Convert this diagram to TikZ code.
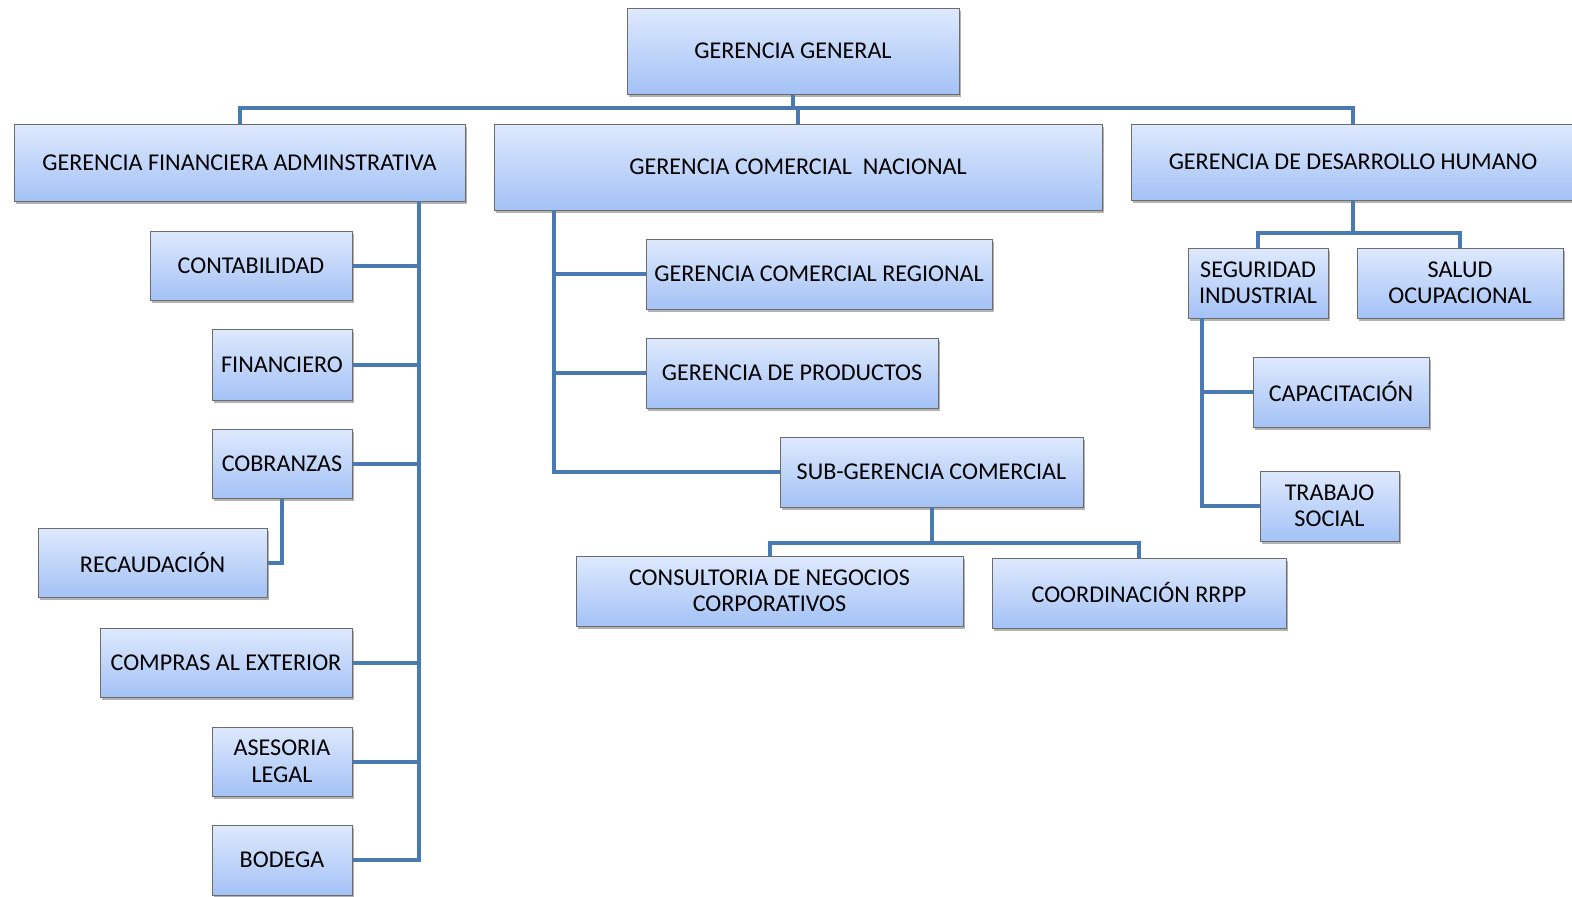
\documentclass[tikz,border=0pt]{standalone}
\usepackage{fontspec}
\setmainfont{Carlito}
\usetikzlibrary{shadows}
\definecolor{linea}{RGB}{74,122,178}
\definecolor{topazul}{RGB}{222,233,253}
\definecolor{botazul}{RGB}{164,194,246}
\tikzset{
  caja/.style={rectangle, draw=gray!85!black, line width=1pt, top color=topazul, bottom color=botazul,
    inner sep=0pt, align=center, font=\fontsize{24.1}{26.5}\selectfont,
    drop shadow={shadow xshift=2pt, shadow yshift=-3pt, fill=black, opacity=0.3}},
  conn/.style={draw=linea, line width=4pt}
}
\begin{document}
\begin{tikzpicture}[x=1pt, y=-1pt]
      \useasboundingbox (0,0) rectangle (1572,897);
      \node (1) at (793,51) [caja, minimum width=332, minimum height=86] {GERENCIA GENERAL};
      \node (2) at (239.5,162.5) [caja, minimum width=451, minimum height=77] {GERENCIA FINANCIERA ADMINSTRATIVA};
      \node (3) at (798,167) [caja, minimum width=608, minimum height=86] {GERENCIA COMERCIAL\ \ NACIONAL};
      \node (4) at (1353,162) [caja, minimum width=444, minimum height=76] {GERENCIA DE DESARROLLO HUMANO};
      \node (5) at (251,265.5) [caja, minimum width=202, minimum height=69] {CONTABILIDAD};
      \node (6) at (282,364.5) [caja, minimum width=140, minimum height=71] {FINANCIERO};
      \node (7) at (282,463.5) [caja, minimum width=140, minimum height=69] {COBRANZAS};
      \node (8) at (152.5,562.5) [caja, minimum width=229, minimum height=69] {RECAUDACIÓN};
      \node (9) at (226,662.5) [caja, minimum width=252, minimum height=69] {COMPRAS AL EXTERIOR};
      \node (10) at (282,761.5) [caja, minimum width=140, minimum height=69] {ASESORIA\\LEGAL};
      \node (11) at (282,860) [caja, minimum width=140, minimum height=70] {BODEGA};
      \node (12) at (819,274) [caja, minimum width=346, minimum height=70] {GERENCIA COMERCIAL REGIONAL};
      \node (13) at (792,373) [caja, minimum width=292, minimum height=70] {GERENCIA DE PRODUCTOS};
      \node (14) at (931.5,472) [caja, minimum width=303, minimum height=70] {SUB-GERENCIA COMERCIAL};
      \node (15) at (769.5,591) [caja, minimum width=387, minimum height=70] {CONSULTORIA DE NEGOCIOS\\CORPORATIVOS};
      \node (16) at (1139,593) [caja, minimum width=294, minimum height=70] {COORDINACIÓN RRPP};
      \node (17) at (1258,283) [caja, minimum width=140, minimum height=70] {SEGURIDAD\\INDUSTRIAL};
      \node (18) at (1460,283) [caja, minimum width=206, minimum height=70] {SALUD\\OCUPACIONAL};
      \node (19) at (1341,392) [caja, minimum width=176, minimum height=70] {CAPACITACIÓN};
      \node (20) at (1329.5,506) [caja, minimum width=139, minimum height=70] {TRABAJO\\SOCIAL};
      \coordinate (t) at (793,108);
      \coordinate (sp) at (419,201);
      \coordinate (sm) at (554,210);
      \coordinate (b2) at (931,543);
      \coordinate (b3) at (1353,233);
      \coordinate (sr) at (1202,318);
      % nivel superior
      \draw[conn] (1.south) -- (t);
      \draw[conn] (2.north) |- (t) -| (4.north);
      \draw[conn] (t -| 3.north) -- (3.north);
      % financiera
      \draw[conn] (sp) |- (11.east);
      \foreach \d in {5,6,7,9,10}
        \draw[conn] (\d.east) -- (\d.east -| sp);
      \draw[conn] (7.south) |- (8.east);
      % comercial
      \draw[conn] (sm) |- (14.west);
      \foreach \d in {12,13}
        \draw[conn] (\d.west) -- (\d.west -| sm);
      \draw[conn] (14.south) -- (14.south |- b2);
      \draw[conn] (15.north) |- (b2) -| (16.north);
      % desarrollo humano
      \draw[conn] (4.south) -- (b3);
      \draw[conn] (17.north) |- (b3) -| (18.north);
      \draw[conn] (sr) |- (20.west);
      \draw[conn] (19.west) -- (19.west -| sr);
    \end{tikzpicture}
\end{document}
